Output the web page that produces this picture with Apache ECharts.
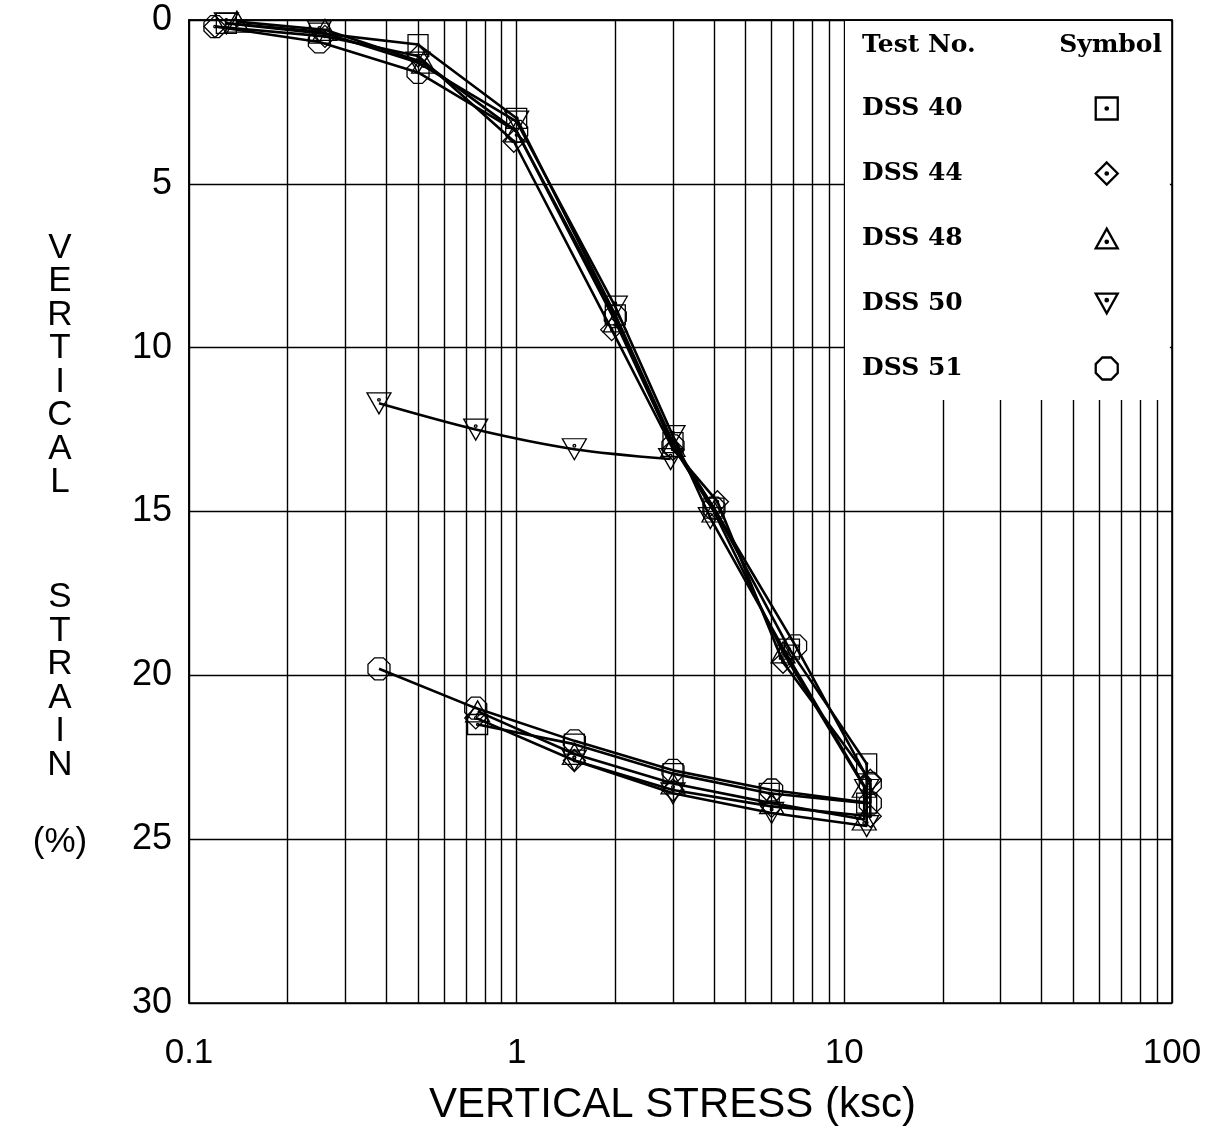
<!DOCTYPE html>
<html>
<head>
<meta charset="utf-8">
<script src="https://cdn.jsdelivr.net/npm/echarts@6/dist/echarts.min.js"></script>
<style>
  html, body { margin: 0; padding: 0; background: #fff; }
  #chart { width: 1214px; height: 1131px; }
</style>
</head>
<body>
<div id="chart"></div>
<script>
// ---------------- DATA ----------------
const testNames = ['DSS 40', 'DSS 44', 'DSS 48', 'DSS 50', 'DSS 51'];

const dss40Stress = [0.13, 0.25, 0.5, 1.0, 2.0, 3.0, 4.0, 6.8, 11.7, 11.7, 5.9, 3.0, 1.5, 0.76];
const dss40Strain = [0.1, 0.4, 0.75, 3.0, 9.0, 12.9, 14.9, 19.2, 22.7, 23.9, 23.6, 23.0, 22.1, 21.5];

const dss44Stress = [0.12, 0.26, 0.5, 0.98, 1.95, 3.0, 4.1, 6.5, 12.0, 12.0, 6.0, 3.0, 1.5, 0.75];
const dss44Strain = [0.2, 0.5, 1.1, 3.7, 9.45, 13.1, 14.7, 19.6, 23.2, 24.3, 24.0, 23.5, 22.6, 21.3];

const dss48Stress = [0.14, 0.26, 0.52, 1.0, 2.0, 3.0, 4.0, 6.5, 11.5, 11.5, 6.0, 3.0, 1.5, 0.76];
const dss48Strain = [0.05, 0.3, 1.3, 3.4, 9.2, 13.0, 15.0, 19.3, 23.4, 24.4, 23.9, 23.3, 22.4, 21.1];

const dss50Stress = [0.13, 0.25, 0.5, 1.0, 2.0, 3.0, 3.9, 6.7, 11.7, 11.7, 6.0, 3.0, 1.5];
const dss50Strain = [0.1, 0.35, 1.3, 3.1, 8.75, 12.7, 15.2, 19.4, 23.5, 24.6, 24.2, 23.6, 22.6];
const dss50UnloadStress = [2.95, 1.5, 0.75, 0.38];
const dss50UnloadStrain = [13.4, 13.1, 12.5, 11.7];

const dss51Stress = [0.12, 0.25, 0.5, 1.0, 2.0, 3.0, 4.0, 7.1, 12.0, 12.0, 6.0, 3.0, 1.5, 0.75, 0.38];
const dss51Strain = [0.2, 0.67, 1.6, 3.4, 9.05, 13.0, 14.9, 19.1, 23.3, 23.9, 23.5, 22.9, 22.0, 21.0, 19.8];

const xTickLabels = ['0.1', '1', '10', '100'];
const yTickLabels = ['0', '5', '10', '15', '20', '25', '30'];
const minorGridStress = [0.2, 0.3, 0.4, 0.5, 0.6, 0.7, 0.8, 0.9,
                         2, 3, 4, 5, 6, 7, 8, 9,
                         20, 30, 40, 50, 60, 70, 80, 90];

// ---------------- SYMBOLS ----------------
const dot = (cx, cy) => ` M${cx - 1.1},${cy} A1.1,1.1 0 1,0 ${cx + 1.1},${cy} A1.1,1.1 0 1,0 ${cx - 1.1},${cy} Z`;
const symSquare = 'path://M0,0 L20,0 L20,20 L0,20 Z' + dot(10, 10);
const symDiamond = 'path://M10,0 L20,10 L10,20 L0,10 Z' + dot(10, 10);
const symTri = 'path://M10,0 L20,18 L0,18 Z' + dot(10, 12);
const symInvTri = 'path://M0,0 L20,0 L10,18 Z' + dot(10, 6);
const symOct = 'path://M6,0 L14,0 L20,6 L20,14 L14,20 L6,20 L0,14 L0,6 Z';
const symbols = [symSquare, symDiamond, symTri, symInvTri, symOct];
const symbolSizes = [20, 22, [24, 21], [24, 21], 22];

const zip = (xs, ys) => xs.map((x, i) => [x, ys[i]]);

function makeSeries(name, idx, xs, ys, smooth) {
  return {
    name: name,
    type: 'line',
    data: zip(xs, ys),
    symbol: symbols[idx],
    symbolSize: symbolSizes[idx],
    showAllSymbol: true,
    smooth: smooth || false,
    itemStyle: { color: 'rgba(0,0,0,0)', borderColor: '#000', borderWidth: 1.3 },
    lineStyle: { color: '#000', width: 2.6 },
    emphasis: { disabled: true },
    z: 3
  };
}

const series = [
  makeSeries(testNames[0], 0, dss40Stress, dss40Strain),
  makeSeries(testNames[1], 1, dss44Stress, dss44Strain),
  makeSeries(testNames[2], 2, dss48Stress, dss48Strain),
  makeSeries(testNames[3], 3, dss50Stress, dss50Strain),
  makeSeries(testNames[3], 3, dss50UnloadStress, dss50UnloadStrain, 0.3),
  makeSeries(testNames[4], 4, dss51Stress, dss51Strain)
];

// minor log grid lines drawn through the x scale
series[0].markLine = {
  silent: true,
  z: 1,
  symbol: ['none', 'none'],
  label: { show: false },
  animation: false,
  lineStyle: { color: '#000', width: 1.4, type: 'solid' },
  data: minorGridStress.map(v => ({ xAxis: v }))
};

const chart = echarts.init(document.getElementById('chart'), null, { renderer: 'canvas' });

const headStyle = { fontFamily: 'DejaVu Serif', fontWeight: 'bold', fontSize: 25, color: '#000', lineHeight: 28 };

chart.setOption({
  animation: false,
  backgroundColor: '#fff',
  grid: {
    left: 189, right: 42, top: 20, bottom: 127,
    show: true, borderColor: '#000', borderWidth: 1.6, backgroundColor: 'transparent'
  },
  title: [
    { text: 'Test No.', left: 862, top: 31, padding: 0, textStyle: headStyle },
    { text: 'Symbol', right: 52, top: 31, padding: 0, textStyle: headStyle }
  ],
  legend: {
    orient: 'vertical',
    left: 845, top: 21,
    padding: [75, 51, 19, 17],
    itemGap: 40, itemWidth: 22, itemHeight: 22,
    align: 'right',
    backgroundColor: '#fff',
    selectedMode: false,
    data: testNames.map((n, i) => ({ name: n, icon: symbols[i] })),
    formatter: n => '{t|' + n + '}{s| }',
    itemStyle: { color: 'rgba(0,0,0,0)', borderColor: '#000', borderWidth: 2.3 },
    textStyle: {
      rich: {
        t: { fontFamily: 'DejaVu Serif', fontWeight: 'bold', fontSize: 25, color: '#000', lineHeight: 22 },
        s: { width: 128, fontSize: 25, lineHeight: 22 }
      }
    },
    z: 4
  },
  xAxis: {
    type: 'log',
    logBase: 10,
    min: 0.1,
    max: 100,
    name: 'VERTICAL STRESS (ksc)',
    nameLocation: 'middle',
    nameGap: 81,
    nameTextStyle: { fontFamily: 'Liberation Sans', fontSize: 42, color: '#000', padding: [0, 16, 0, 0] },
    axisLine: { show: true, lineStyle: { color: '#000', width: 1.6 } },
    axisTick: { show: false },
    axisLabel: {
      margin: 33, fontFamily: 'Liberation Sans', fontSize: 35, color: '#000',
      formatter: v => {
        const i = Math.round(Math.log10(v)) + 1;
        return xTickLabels[i] !== undefined ? xTickLabels[i] : '';
      }
    },
    splitLine: { show: true, lineStyle: { color: '#000', width: 1.4 } },
    minorTick: { show: false },
    minorSplitLine: { show: false }
  },
  yAxis: {
    type: 'value',
    inverse: true,
    min: 0, max: 30, interval: 5,
    name: 'V\nE\nR\nT\nI\nC\nA\nL\n{g1| }\nS\nT\nR\nA\nI\nN\n{g2| }\n(%)',
    nameLocation: 'middle',
    nameRotate: 0,
    nameGap: 129,
    nameTextStyle: {
      fontFamily: 'Liberation Sans', fontSize: 35, color: '#000', lineHeight: 33.5,
      align: 'center', verticalAlign: 'middle', padding: [67, 0, 0, 0],
      rich: {
        g1: { lineHeight: 81.5, fontSize: 10 },
        g2: { lineHeight: 43.5, fontSize: 10 }
      }
    },
    axisLine: { show: true, lineStyle: { color: '#000', width: 1.6 } },
    axisTick: { show: false },
    axisLabel: {
      margin: 17, fontFamily: 'Liberation Sans', fontSize: 36, color: '#000',
      formatter: v => yTickLabels[Math.round(v / 5)]
    },
    splitLine: { show: true, lineStyle: { color: '#000', width: 1.4 } }
  },
  series: series
});
</script>
</body>
</html>
